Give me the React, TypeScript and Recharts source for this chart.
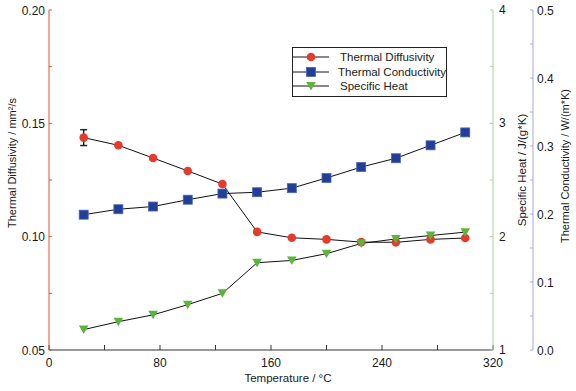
import { ComposedChart, Line, XAxis, YAxis, ErrorBar, Legend } from 'recharts';

const temperature = [25, 50, 75, 100, 125, 150, 175, 200, 225, 250, 275, 300];
const diffusivity = [0.1437, 0.1403, 0.1347, 0.129, 0.1232, 0.1021, 0.0995, 0.0988, 0.0976, 0.0975, 0.0988, 0.0994];
const diffusivityError = [0.0035, 0, 0, 0, 0, 0, 0, 0, 0, 0, 0, 0];
const conductivity = [0.199, 0.207, 0.211, 0.221, 0.23, 0.232, 0.238, 0.253, 0.269, 0.282, 0.301, 0.32];
const specificHeat = [1.18, 1.25, 1.31, 1.4, 1.5, 1.77, 1.79, 1.85, 1.94, 1.98, 2.01, 2.04];

const xTicks = [0, 40, 80, 120, 160, 200, 240, 280, 320];
const diffTicks = [0.05, 0.075, 0.1, 0.125, 0.15, 0.175, 0.2];
const cpTicks = [1, 1.5, 2, 2.5, 3, 3.5, 4];
const kTicks = [0, 0.05, 0.1, 0.15, 0.2, 0.25, 0.3, 0.35, 0.4, 0.45, 0.5];
const legendOrder = ['diff', 'k', 'cp'];

const data = temperature.map((t, i) => ({
  t,
  diff: diffusivity[i],
  diffErr: diffusivityError[i],
  k: conductivity[i],
  cp: specificHeat[i],
}));

const FONT = '"Liberation Sans", Arial, sans-serif';
const RED = '#e53b2c';
const BLUE = '#223f97';
const GREEN = '#5bb53c';

const isStep = (v: number, step: number) => Math.abs(v / step - Math.round(v / step)) < 1e-6;

function makeTick(show: (v: number) => boolean, fmt: (v: number) => string, anchor: string, dy: number) {
  return (props: any) => {
    const { x, y, payload } = props;
    if (!show(payload.value)) return <g />;
    return (
      <text x={x} y={y} dy={dy} textAnchor={anchor} fontSize={12} fontFamily={FONT} fill="#1a1a1a">
        {fmt(payload.value)}
      </text>
    );
  };
}

function marker(kind: string, cx: number, cy: number, key?: any) {
  if (kind === 'diff') return <circle key={key} cx={cx} cy={cy} r={4.3} fill={RED} />;
  if (kind === 'k')
    return <rect key={key} x={cx - 4.5} y={cy - 4.5} width={9} height={9} fill={BLUE} stroke="#4a64b0" strokeWidth={0.8} />;
  return <path key={key} d={`M${cx - 4.8},${cy - 4}L${cx + 4.8},${cy - 4}L${cx},${cy + 4.5}Z`} fill={GREEN} />;
}

const dotFor = (kind: string) => (props: any) => marker(kind, props.cx, props.cy, props.index);

function LegendBox(props: any) {
  const items = [...(props.payload || [])].sort(
    (a: any, b: any) => legendOrder.indexOf(a.dataKey) - legendOrder.indexOf(b.dataKey)
  );
  return (
    <div style={{ border: '1px solid #222', background: '#fff', padding: '2px 0', width: 155, boxSizing: 'border-box' }}>
      {items.map((p: any) => (
        <div key={p.dataKey} style={{ display: 'flex', alignItems: 'center', height: 14.5 }}>
          <svg width={47} height={12}>
            <line x1={0} x2={36} y1={6} y2={6} stroke="#111" strokeWidth={1} />
            {marker(p.dataKey, 18, 6)}
          </svg>
          <span style={{ fontFamily: FONT, fontSize: 11.5, color: '#1a1a1a', whiteSpace: 'nowrap' }}>{p.value}</span>
        </div>
      ))}
    </div>
  );
}

export default function App() {
  return (
    <div style={{ position: 'absolute', left: 0, top: 0, background: '#fff' }}>
      <ComposedChart width={576} height={391} data={data} margin={{ top: 10, right: 0, bottom: 0, left: 0 }}>
        <XAxis
          xAxisId="x"
          dataKey="t"
          type="number"
          domain={[0, 320]}
          ticks={xTicks}
          height={41}
          stroke="#333"
          tickSize={-5}
          tickMargin={5}
          tick={makeTick((v) => isStep(v, 80), (v) => String(v), 'middle', 17)}
          label={{ value: 'Temperature / °C', position: 'insideBottom', offset: 9, dx: 17, fontSize: 11.5, fontFamily: FONT, fill: '#1a1a1a' }}
        />
        <XAxis
          xAxisId="top"
          orientation="top"
          dataKey="t"
          type="number"
          domain={[0, 320]}
          ticks={xTicks}
          height={0}
          stroke="#333"
          tickSize={-5}
          tick={() => <g />}
        />
        <YAxis
          yAxisId="d"
          type="number"
          domain={[0.05, 0.2]}
          ticks={diffTicks}
          width={49}
          stroke="#e0532f"
          tickSize={-3}
          tickMargin={7}
          tick={makeTick((v) => isStep(v, 0.05), (v) => v.toFixed(2), 'end', 4.5)}
          label={{ value: 'Thermal Diffusivity / mm²/s', angle: -90, position: 'center', dx: -12, dy: -17, fontSize: 11, fontFamily: FONT, fill: '#1a1a1a' }}
        />
        <YAxis
          yAxisId="cp"
          orientation="right"
          type="number"
          domain={[1, 4]}
          ticks={cpTicks}
          width={40}
          stroke="#a6d494"
          tickSize={-3}
          tickMargin={9}
          tick={makeTick((v) => isStep(v, 1), (v) => String(v), 'start', 4)}
          label={{ value: 'Specific Heat / J/(g*K)', angle: -90, position: 'center', dx: 9, dy: -10, fontSize: 11.5, fontFamily: FONT, fill: '#1a1a1a' }}
        />
        <YAxis
          yAxisId="k"
          orientation="right"
          type="number"
          domain={[0, 0.5]}
          ticks={kTicks}
          width={43}
          stroke="#a9a9dc"
          tickSize={-3}
          tickMargin={7}
          tick={makeTick((v) => isStep(v, 0.1), (v) => v.toFixed(1), 'start', 5)}
          label={{ value: 'Thermal Conductivity / W/(m*K)', angle: -90, position: 'center', dx: 10.5, dy: -14, fontSize: 11, fontFamily: FONT, fill: '#1a1a1a' }}
        />
        <Legend
          layout="vertical"
          align="center"
          verticalAlign="middle"
          content={LegendBox}
          wrapperStyle={{ left: 292, top: 47, width: 156 }}
        />
        <Line
          xAxisId="x"
          yAxisId="d"
          dataKey="diff"
          name="Thermal Diffusivity"
          stroke="#111"
          strokeWidth={1}
          dot={dotFor('diff')}
          activeDot={false}
          isAnimationActive={false}
        >
          <ErrorBar dataKey="diffErr" direction="y" width={3.5} stroke="#222" strokeWidth={1.5} isAnimationActive={false} />
        </Line>
        <Line
          xAxisId="x"
          yAxisId="k"
          dataKey="k"
          name="Thermal Conductivity"
          stroke="#111"
          strokeWidth={1}
          dot={dotFor('k')}
          activeDot={false}
          isAnimationActive={false}
        />
        <Line
          xAxisId="x"
          yAxisId="cp"
          dataKey="cp"
          name="Specific Heat"
          stroke="#111"
          strokeWidth={1}
          dot={dotFor('cp')}
          activeDot={false}
          isAnimationActive={false}
        />
      </ComposedChart>
    </div>
  );
}
